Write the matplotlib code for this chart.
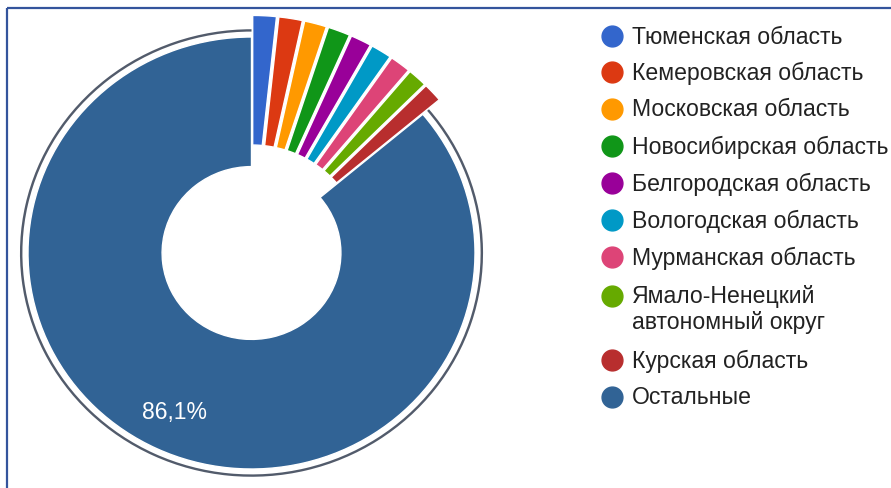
import matplotlib
matplotlib.use('Agg')
import matplotlib.pyplot as plt
from matplotlib.patches import Wedge

plt.rcParams['font.family'] = ['Liberation Sans', 'DejaVu Sans']

regions = ['Тюменская область', 'Кемеровская область', 'Московская область',
           'Новосибирская область', 'Белгородская область', 'Вологодская область',
           'Мурманская область', 'Ямало-Ненецкий\nавтономный округ',
           'Курская область', 'Остальные']
shares = [1.7, 1.7, 1.6, 1.6, 1.5, 1.5, 1.5, 1.4, 1.4, 86.1]
colors = ['#3366CC', '#DC3912', '#FF9900', '#109618', '#990099',
          '#0099C6', '#DD4477', '#66AA00', '#B82E2E', '#316395']

W, H = 891, 489
fig = plt.figure(figsize=(W / 100, H / 100), dpi=100)

# pie axes: centre at pixel (251.5, 254), radius 223.5 px across, 216 px down
ax = fig.add_axes([0, 0, 1, 1])
cx, cy, rx, ry = 251.5, 254, 223.5, 216

explode = [0.1] * (len(shares) - 1) + [0]

def fmt(p):
    return f'{p:.1f}%'.replace('.', ',') if p > 50 else ''

wedges, texts, autotexts = ax.pie(
    shares, explode=explode, colors=colors, startangle=90, counterclock=False,
    radius=1, autopct=fmt, pctdistance=0.81,
    wedgeprops=dict(width=0.6, edgecolor='white', linewidth=1.0),
    textprops=dict(color='white', fontsize=16.5))

# selection ring around the big slice
main = wedges[-1]
ax.add_patch(Wedge((0, 0), 1.036, main.theta1, main.theta2, width=0.011,
                   facecolor='#525b6b', edgecolor='none'))

ax.set_aspect('auto')
ax.set_xlim(-cx / rx, (W - cx) / rx)
ax.set_ylim(-(H - cy) / ry, cy / ry)
ax.axis('off')

# overlay in pixel units for legend and frame
lg = fig.add_axes([0, 0, 1, 1])
lg.set_xlim(0, W)
lg.set_ylim(H, 0)
lg.axis('off')
lg.patch.set_alpha(0)

rows = [37, 73, 110, 147, 184, 221, 258, 297, 361, 398]
for name, col, y in zip(regions, colors, rows):
    lg.plot(612, y, 'o', color=col, markersize=15)
    lines = name.split('\n')
    for k, line in enumerate(lines):
        lg.text(632, y + 26 * k, line, va='center', ha='left',
                fontsize=16.6, color='#222222')

lg.plot([7, W], [9, 9], color='#34549c', linewidth=1.6, solid_capstyle='butt')
lg.plot([7, 7], [9, H], color='#34549c', linewidth=1.6, solid_capstyle='butt')

fig.savefig('out.png', dpi=100)
